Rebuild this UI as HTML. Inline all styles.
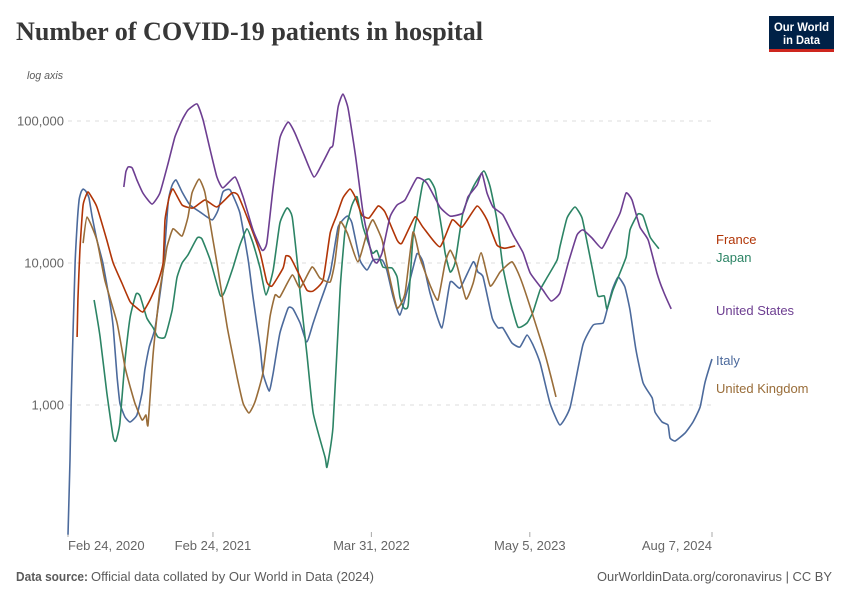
<!DOCTYPE html>
<html lang="en">
<head>
<meta charset="utf-8">
<title>Number of COVID-19 patients in hospital</title>
<style>
html,body{margin:0;padding:0;background:#fff;width:850px;height:600px;overflow:hidden}
svg{display:block}
text{font-family:"Liberation Sans",sans-serif}
</style>
</head>
<body>
<svg id="chart" xmlns="http://www.w3.org/2000/svg" width="850" height="600" viewBox="0 0 850 600">
  <text x="16" y="40" textLength="467" lengthAdjust="spacingAndGlyphs" font-size="26" font-weight="700" fill="#373737" style="font-family:'Liberation Serif',serif">Number of COVID-19 patients in hospital</text>
  <g>
    <rect x="769" y="16" width="65" height="36" fill="#002147"/>
    <rect x="769" y="49" width="65" height="3" fill="#ce261e"/>
    <text x="801.5" y="31" text-anchor="middle" font-size="12" font-weight="700" fill="#fff" textLength="55" lengthAdjust="spacingAndGlyphs">Our World</text>
    <text x="801.5" y="44" text-anchor="middle" font-size="12" font-weight="700" fill="#fff" textLength="37" lengthAdjust="spacingAndGlyphs">in Data</text>
  </g>
  <text x="63" y="79" text-anchor="end" font-size="11" font-style="italic" fill="#5b5b5b" textLength="36" lengthAdjust="spacingAndGlyphs">log axis</text>
  <g id="grid"></g>
  <g id="xaxis"></g>
  <g id="lines"></g>
  <g id="labels"></g>
  <text x="16" y="581" font-size="13" font-weight="700" fill="#5b5b5b" textLength="72" lengthAdjust="spacingAndGlyphs">Data source:</text>
  <text x="91" y="581" font-size="13" fill="#5b5b5b" textLength="283" lengthAdjust="spacingAndGlyphs">Official data collated by Our World in Data (2024)</text>
  <text x="597" y="581" font-size="13" fill="#5b5b5b" textLength="235" lengthAdjust="spacingAndGlyphs">OurWorldinData.org/coronavirus | CC BY</text>
</svg>
<script>
// Days since Feb 24, 2020 and patients in hospital
const italyDays = [0,5,8,13,18,23,28,33,38,45,53,61,73,88,106,114,124,131,144,157,174,187,194,205,220,240,253,263,273,288,308,333,364,379,391,409,434,455,467,485,492,508,518,535,556,568,586,603,619,636,662,682,705,717,737,755,770,793,805,821,838,859,881,896,914,944,965,990,1023,1035,1048,1071,1086,1098,1121,1141,1159,1174,1192,1217,1242,1268,1300,1326,1351,1361,1374,1389,1406,1419,1434,1452,1475,1482,1500,1515,1520,1533,1558,1578,1596,1608,1626];
const italyValues = [122,410,1080,3380,10000,18500,27800,31600,33200,32100,28700,21100,14500,10000,5230,3540,1570,1030,823,759,850,1220,1760,2560,3490,8930,26900,35400,38400,31600,25600,22900,20100,23600,31600,32700,22500,10500,5760,2560,1680,1250,1680,3210,4820,4750,3780,2780,3780,5230,8500,17900,21400,19100,10500,8930,10500,10500,8930,5760,4300,6780,11600,10200,6150,3490,7350,6670,10200,8640,7970,4100,3490,3490,2730,2560,3110,2650,1980,1030,723,968,2650,3660,3780,4670,6450,7970,6780,4670,2440,1430,1120,893,759,723,586,558,635,759,968,1430,2110];

const franceDays = [23,25,30,38,50,61,73,98,114,136,157,174,189,207,227,240,245,255,265,288,316,346,376,414,429,455,485,502,515,543,550,561,578,603,619,644,662,679,694,712,725,742,760,783,800,831,843,876,896,939,970,995,1033,1058,1083,1103,1129];
const franceValues = [3010,5490,12300,25600,31600,28700,24800,14500,10000,7230,5320,4820,4520,5490,7350,10000,20100,28700,33200,25600,24400,27800,24800,31100,30100,20100,11800,7350,6890,9220,11200,11000,8930,6450,6350,7590,16300,21800,28700,33200,29200,21800,20700,25200,22900,14500,13800,21100,17900,13000,20100,17900,25200,20100,13400,12700,13200];

const japanDays = [66,81,98,114,121,131,144,157,172,182,199,215,227,245,263,275,288,303,326,338,359,384,394,417,434,452,467,485,500,518,535,553,566,581,586,603,619,649,654,669,687,699,707,717,730,745,768,780,795,818,831,838,848,859,871,881,896,912,927,944,952,965,977,997,1023,1050,1066,1083,1098,1116,1136,1159,1174,1192,1209,1235,1242,1260,1280,1298,1313,1326,1338,1354,1361,1376,1409,1419,1439,1452,1470,1492];
const japanValues = [5490,3010,1220,595,558,747,2070,4170,6050,5860,4100,3490,3010,3010,4670,7840,10000,11400,15000,14800,10500,5950,6150,9370,13400,17400,13800,9220,5950,8930,19100,24400,21100,8930,6150,2320,878,430,366,700,6450,16300,20100,25600,29200,17900,11800,12200,9370,9220,7970,5760,4820,5060,15200,21100,36600,39000,32700,17100,11800,8640,10000,22500,34300,44500,34300,20100,9370,5490,3540,3780,4520,6450,7840,10500,13000,20700,24800,20700,13000,8500,5860,5860,4750,6450,11000,17100,22100,21400,15200,12600];

const usDays = [141,146,152,162,174,189,212,232,253,270,288,303,326,341,359,376,391,422,442,467,490,502,518,535,556,573,596,621,644,662,669,682,694,707,725,745,768,780,793,813,831,851,881,906,939,965,997,1010,1033,1045,1058,1073,1098,1124,1149,1167,1199,1220,1242,1263,1285,1300,1323,1348,1369,1394,1409,1424,1444,1465,1487,1502,1523];
const usValues = [34300,43700,47500,46700,38400,31100,26000,31100,50600,77100,101600,119500,131700,101600,62500,40300,33800,40300,29200,17100,12300,13800,34300,75900,98400,82300,57600,40300,51500,64500,67800,125500,155000,123500,59500,22500,11000,10000,11800,21100,25600,27800,39700,36600,24800,21400,22500,29200,35400,43000,31100,24800,21800,15700,11800,8500,6450,5400,6150,10000,15700,17100,15000,12700,16300,22500,31100,27800,17900,14500,8500,6450,4750];

const ukDays = [38,48,73,93,124,144,157,169,187,197,202,215,232,245,250,265,288,303,313,331,346,366,379,402,427,442,457,472,492,510,523,535,566,586,616,636,662,674,687,705,732,757,770,793,808,831,851,871,889,914,934,952,965,982,1005,1023,1043,1066,1091,1121,1141,1167,1199,1217,1232];
const ukValues = [13800,21100,14500,7590,3780,1850,1340,1030,784,850,723,2320,6450,10500,13000,17400,15500,21100,31100,39000,31100,14500,8930,3540,1570,1030,878,1050,1680,4170,5950,5760,8230,6670,9370,7840,7350,10200,19400,16300,10200,17100,20100,14500,8930,4820,6150,16500,10800,7000,5490,10000,12300,9680,5580,7230,11800,6890,8640,10200,7970,4900,2560,1680,1140];

const yTickValues = [1000,10000,100000];
const yTickLabels = ["1,000","10,000","100,000"];
const xTickDays = [0,366,766,1166,1626];
const xTickLabels = ["Feb 24, 2020","Feb 24, 2021","Mar 31, 2022","May 5, 2023","Aug 7, 2024"];

const NS = "http://www.w3.org/2000/svg";
const xScale = d => 68 + (d / 1626) * 644;
const yScale = v => 121 + (5 - Math.log10(v)) * 142;
function mk(tag, attrs, parent, txt) {
  const el = document.createElementNS(NS, tag);
  for (const k in attrs) el.setAttribute(k, attrs[k]);
  if (txt !== undefined) el.textContent = txt;
  parent.appendChild(el);
  return el;
}
function smoothPath(days, values) {
  const p = days.map((d, i) => [xScale(d), yScale(values[i])]);
  let s = "M" + p[0][0].toFixed(1) + " " + p[0][1].toFixed(1);
  for (let i = 0; i < p.length - 1; i++) {
    const a = p[Math.max(i - 1, 0)], b = p[i], c = p[i + 1], e = p[Math.min(i + 2, p.length - 1)];
    const t = 0.08;
    s += "C" + (b[0] + (c[0] - a[0]) * t).toFixed(1) + " " + (b[1] + (c[1] - a[1]) * t).toFixed(1) +
         " " + (c[0] - (e[0] - b[0]) * t).toFixed(1) + " " + (c[1] - (e[1] - b[1]) * t).toFixed(1) +
         " " + c[0].toFixed(1) + " " + c[1].toFixed(1);
  }
  return s;
}

const grid = document.getElementById("grid");
yTickValues.forEach((v, i) => {
  const line = mk("line", {x1: 68, x2: 712, y1: yScale(v), y2: yScale(v), stroke: "#dddddd", "stroke-width": 1, "stroke-dasharray": "4 5"}, grid);
  
  
  const t = mk("text", {x: 64, y: yScale(v) + 4.5, "text-anchor": "end", "font-size": 13, fill: "#666666"}, grid, yTickLabels[i]);
  
  
});

const xaxis = document.getElementById("xaxis");
xTickDays.forEach((d, i) => {
  const x = xScale(d);
  const tick = mk("line", {x1: x, x2: x, y1: 532, y2: 537, stroke: "#a8a8a8", "stroke-width": 1}, xaxis);
  
  
  const anchor = i === 0 ? "start" : i === xTickDays.length - 1 ? "end" : "middle";
  const t = mk("text", {x: x, y: 550, "text-anchor": anchor, "font-size": 13, fill: "#666666"}, xaxis, xTickLabels[i]);
  
  
});

const lines = document.getElementById("lines");
const italyLine = mk("path", {d: smoothPath(italyDays, italyValues), fill: "none", stroke: "#4c6a9c", "stroke-width": 1.6, "stroke-linejoin": "round"}, lines);


const japanLine = mk("path", {d: smoothPath(japanDays, japanValues), fill: "none", stroke: "#2c8465", "stroke-width": 1.6, "stroke-linejoin": "round"}, lines);


const franceLine = mk("path", {d: smoothPath(franceDays, franceValues), fill: "none", stroke: "#b13507", "stroke-width": 1.6, "stroke-linejoin": "round"}, lines);


const ukLine = mk("path", {d: smoothPath(ukDays, ukValues), fill: "none", stroke: "#996d39", "stroke-width": 1.6, "stroke-linejoin": "round"}, lines);


const usLine = mk("path", {d: smoothPath(usDays, usValues), fill: "none", stroke: "#6d3e91", "stroke-width": 1.6, "stroke-linejoin": "round"}, lines);



const labels = document.getElementById("labels");
const franceLabel = mk("text", {x: 716, y: 244, "font-size": 13, fill: "#b13507"}, labels, "France");


const japanLabel = mk("text", {x: 716, y: 262, "font-size": 13, fill: "#2c8465"}, labels, "Japan");


const usLabel = mk("text", {x: 716, y: 315, "font-size": 13, fill: "#6d3e91"}, labels, "United States");


const italyLabel = mk("text", {x: 716, y: 365, "font-size": 13, fill: "#4c6a9c"}, labels, "Italy");


const ukLabel = mk("text", {x: 716, y: 393, "font-size": 13, fill: "#996d39"}, labels, "United Kingdom");


</script>
</body>
</html>
